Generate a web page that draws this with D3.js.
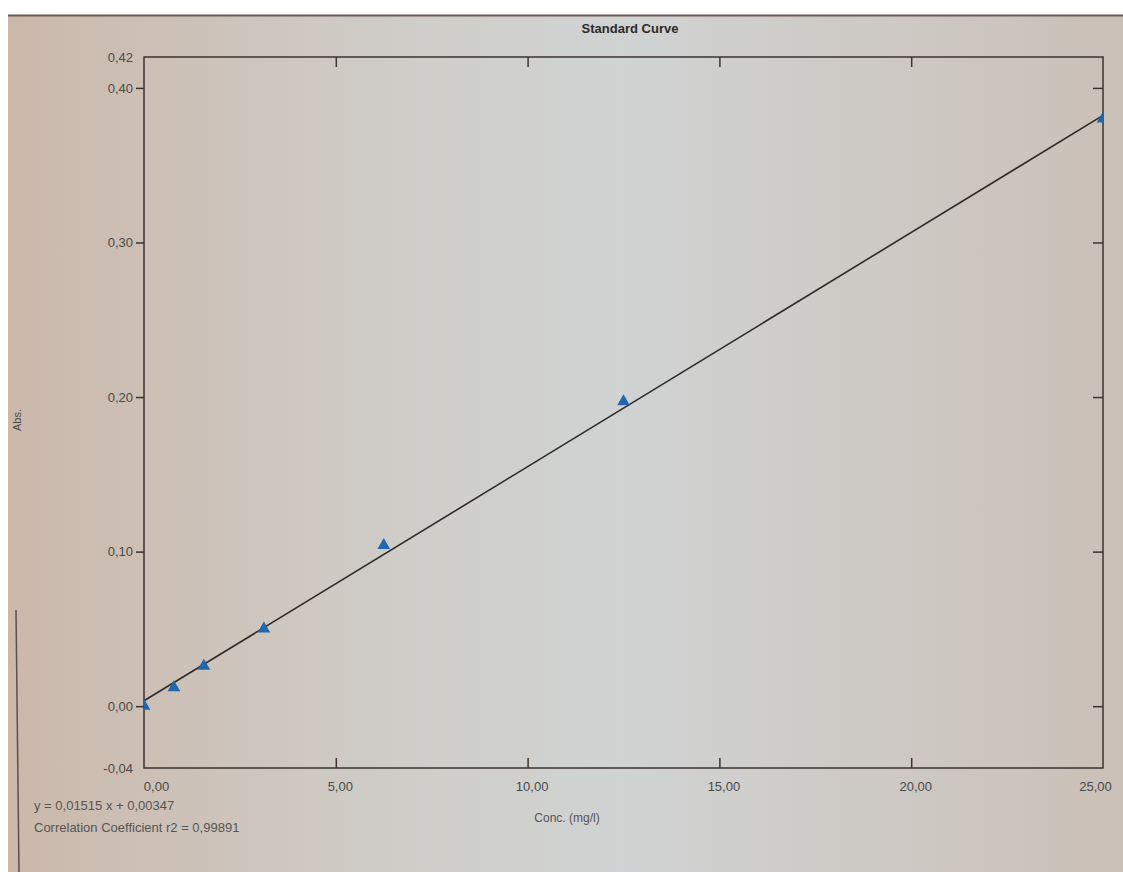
<!DOCTYPE html>
<html>
<head>
<meta charset="utf-8">
<script src="https://cdn.jsdelivr.net/npm/d3@7"></script>
<style>
  body { margin: 0; background: #fff; }
  svg { display: block; font-family: "Liberation Sans", Arial, sans-serif; }
</style>
</head>
<body>
<svg width="1123" height="872"></svg>
<script>
// Standards: concentration (mg/l) vs absorbance
const conc = [0, 0.78, 1.56, 3.125, 6.25, 12.5, 25];
const absorb = [0.000, 0.012, 0.026, 0.050, 0.104, 0.197, 0.380];

// Regression reported by the instrument
const slope = 0.01515, intercept = 0.00347, r2 = 0.99891;

const xTicks = [0, 5, 10, 15, 20, 25];
const yTicks = [-0.04, 0, 0.1, 0.2, 0.3, 0.4, 0.42];

const svg = d3.select("svg"),
    margin = { top: 57, right: 20, bottom: 104, left: 144 },
    width = +svg.attr("width") - margin.left - margin.right,
    height = +svg.attr("height") - margin.top - margin.bottom;

const comma = d3.formatLocale({ decimal: ",", thousands: ".", grouping: [3], currency: ["", ""], minus: "-" });
const fmt = comma.format(".2f");

// screen background (photo of a monitor)
const defs = svg.append("defs");
const grad = defs.append("linearGradient").attr("id", "bg");
grad.append("stop").attr("offset", "0%").attr("stop-color", "#cbb8ab");
grad.append("stop").attr("offset", "35%").attr("stop-color", "#cfcdc8");
grad.append("stop").attr("offset", "55%").attr("stop-color", "#d0d3d3");
grad.append("stop").attr("offset", "100%").attr("stop-color", "#cbc0b7");

svg.append("rect").attr("x", 8).attr("y", 15).attr("width", 1115).attr("height", 857)
    .attr("fill", "url(#bg)");
svg.append("line").attr("x1", 8).attr("x2", 1123).attr("y1", 15.5).attr("y2", 15.5)
    .attr("stroke", "#6a5a52").attr("stroke-width", 2);
svg.append("line").attr("x1", 16).attr("x2", 19).attr("y1", 610).attr("y2", 872)
    .attr("stroke", "#5c504a").attr("stroke-width", 1.5);

defs.append("clipPath").attr("id", "plot")
  .append("rect").attr("width", width).attr("height", height);

const chart = svg.append("g")
    .attr("transform", `translate(${margin.left},${margin.top})`);

const x = d3.scaleLinear().domain([0, 25]).range([0, width]);
const y = d3.scaleLinear().domain([-0.04, 0.42]).range([height, 0]);

// frame
chart.append("rect").attr("width", width).attr("height", height)
    .attr("fill", "none").attr("stroke", "#3b3330").attr("stroke-width", 1.5);

const axisColor = "#3b3330";
function style(g) {
  g.select(".domain").remove();
  g.selectAll("line").attr("stroke", axisColor).attr("stroke-width", 1.5);
  g.selectAll("text").attr("fill", "#4a4a4a").style("font-size", "13px");
}

// left axis, outward ticks with labels
chart.append("g")
    .call(d3.axisLeft(y).tickValues(yTicks).tickSize(8).tickPadding(3).tickFormat(fmt))
    .call(style)
    .call(g => g.selectAll(".tick line").filter(d => d === -0.04 || d === 0.42).remove());

// right axis, inward ticks
chart.append("g")
    .attr("transform", `translate(${width},0)`)
    .call(d3.axisRight(y).tickValues([0, 0.1, 0.2, 0.3, 0.4]).tickSize(-10).tickFormat(""))
    .call(style);

// bottom axis, inward ticks with labels
chart.append("g")
    .attr("transform", `translate(0,${height})`)
    .call(d3.axisBottom(x).tickValues(xTicks).tickSizeInner(-10).tickSizeOuter(0).tickPadding(14).tickFormat(fmt))
    .call(style)
    .call(g => g.selectAll(".tick line").filter(d => d === 0 || d === 25).remove())
    .call(g => g.selectAll(".tick text").attr("dx", d => d === 0 ? 12 : d === 25 ? -8 : 4));

// top axis, inward ticks
chart.append("g")
    .call(d3.axisTop(x).tickValues([5, 10, 15, 20]).tickSize(-10).tickFormat(""))
    .call(style);

// regression line
const plot = chart.append("g").attr("clip-path", "url(#plot)");
plot.append("line")
    .attr("x1", x(0)).attr("y1", y(intercept))
    .attr("x2", x(25)).attr("y2", y(slope * 25 + intercept))
    .attr("stroke", "#2e2a28").attr("stroke-width", 1.6);

// standards
const pts = conc.map((c, i) => ({ c, a: absorb[i] }));
plot.selectAll(".pt")
    .data(pts)
    .enter()
    .append("path")
    .attr("class", "pt")
    .attr("transform", d => `translate(${x(d.c)},${y(d.a)})`)
    .attr("d", d3.symbol(d3.symbolTriangle, 70))
    .attr("fill", "#2167ad");

// titles
svg.append("text")
    .attr("x", 630).attr("y", 33)
    .style("text-anchor", "middle")
    .style("font-weight", "bold")
    .style("font-size", "13px")
    .attr("fill", "#2e2a28")
    .text("Standard Curve");

svg.append("text")
    .attr("transform", "translate(21,420) rotate(-90)")
    .style("text-anchor", "middle")
    .style("font-size", "11px")
    .attr("fill", "#4a4a4a")
    .text("Abs.");

svg.append("text")
    .attr("x", 567).attr("y", 822)
    .style("text-anchor", "middle")
    .style("font-size", "12px")
    .attr("fill", "#555")
    .text("Conc. (mg/l)");

svg.append("text")
    .attr("x", 34).attr("y", 810)
    .style("font-size", "13px")
    .attr("fill", "#555")
    .text(`y = ${comma.format(".5f")(slope)} x + ${comma.format(".5f")(intercept)}`);

svg.append("text")
    .attr("x", 34).attr("y", 832)
    .style("font-size", "13px")
    .attr("fill", "#555")
    .text(`Correlation Coefficient r2 = ${comma.format(".5f")(r2)}`);
</script>
</body>
</html>
